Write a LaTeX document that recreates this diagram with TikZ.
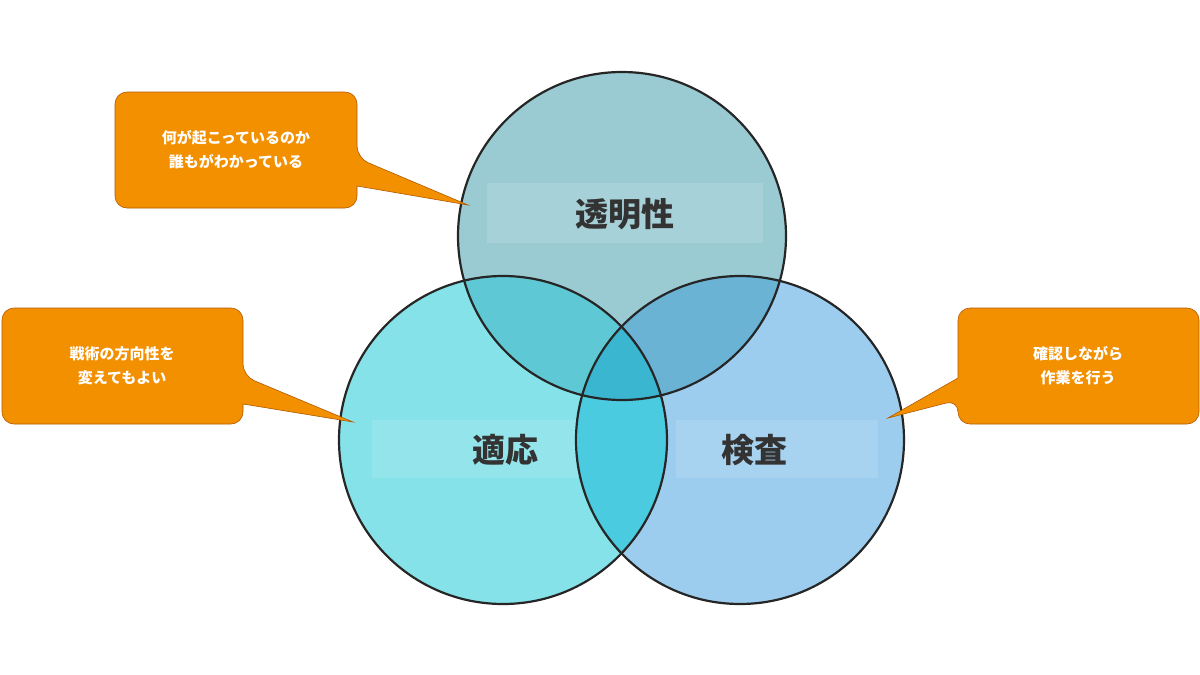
\documentclass[tikz,border=0pt]{standalone}
\usepackage{fontspec}
\newfontfamily\cjk{Noto Sans CJK JP}
\begin{document}
\begin{tikzpicture}[x=1pt,y=-1pt,
  circ/.style={draw=black!85,line width=2.2pt},
  lbl/.style={font=\cjk\bfseries\fontsize{33}{36}\selectfont,text=black!80},
  call/.style={fill=orange!90!red!95!yellow,draw=orange!70!black,line width=0.6pt,rounded corners=12pt},
  ctext/.style={font=\cjk\bfseries\fontsize{15}{24}\selectfont,text=white,align=center},
  glow/.style={fill=white,fill opacity=0.12,draw=none}]
\definecolor{cT}{HTML}{9ACBD3}\definecolor{cL}{HTML}{86E2E9}\definecolor{cR}{HTML}{9DCDEE}
\definecolor{cTL}{HTML}{5FC8D5}\definecolor{cTR}{HTML}{6AB3D5}\definecolor{cLR}{HTML}{4ACBE0}\definecolor{cC}{HTML}{3AB6D0}
\definecolor{org}{HTML}{F39000}
\useasboundingbox (0,0) rectangle (1200,675);
\def\T{(622,236) circle (164)}\def\L{(503,440) circle (164)}\def\R{(740,440) circle (164)}
\fill[cT] \T; \fill[cL] \L; \fill[cR] \R;
\begin{scope}\clip \T; \fill[cTL] \L; \fill[cTR] \R; \end{scope}
\begin{scope}\clip \L; \fill[cLR] \R; \end{scope}
\begin{scope}\clip \T; \clip \L; \fill[cC] \R; \end{scope}
\fill[glow] (487,183) rectangle (763,243);
\fill[glow] (372,420) rectangle (578,478);
\fill[glow] (676,420) rectangle (878,478);
\draw[circ] \T; \draw[circ] \L; \draw[circ] \R;
\node[lbl] (t) at (625,214) {透明性};
\node[lbl] (l) at (505,450) {適応};
\node[lbl] (r) at (754,450) {検査};
% callouts
\draw[fill=org,draw=orange!70!black,line width=0.6pt,rounded corners=12pt]
  (115,92) -- (357,92) -- (357,158) [sharp corners]-- (468,205) -- (357,186) [rounded corners=12pt]-- (357,208) -- (115,208) -- cycle;
\node[ctext] (c1) at (236,150) {何が起こっているのか\\誰もがわかっている};
\draw[fill=org,draw=orange!70!black,line width=0.6pt,rounded corners=12pt]
  (2,308) -- (243,308) -- (243,376) [sharp corners]-- (353,422) -- (243,404) [rounded corners=12pt]-- (243,424) -- (2,424) -- cycle;
\node[ctext] (c2) at (122,366) {戦術の方向性を\\変えてもよい};
\draw[fill=org,draw=orange!70!black,line width=0.6pt,rounded corners=12pt]
  (958,308) -- (1199,308) -- (1199,424) -- (958,424) -- (958,400) [sharp corners]-- (888,418) -- (958,378) [rounded corners=12pt]-- cycle;
\node[ctext] (c3) at (1078,366) {確認しながら\\作業を行う};
\end{tikzpicture}
\end{document}
